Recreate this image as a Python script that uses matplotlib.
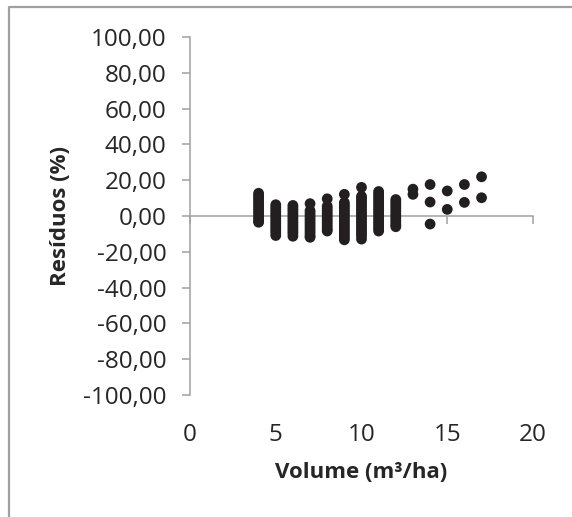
import matplotlib.pyplot as plt
from matplotlib.lines import Line2D
from matplotlib.ticker import FuncFormatter

plt.rcParams['font.family'] = ['Open Sans', 'DejaVu Sans']

# Residuals (%) read per volume class (m3/ha)
res_v4 = [12.7, 11.4, 10.1, 8.8, 7.5, 6.2, 4.9, 3.6, 2.3, 1.0, -0.3, -1.6, -2.9, -3.5]
res_v5 = [6.3, 5.0, 3.7, 2.4, 1.1, -0.2, -1.5, -2.8, -4.1, -5.4, -6.7, -8.0, -9.3, -10.9]
res_v6 = [5.9, 4.6, 3.3, 2.0, 0.7, -0.6, -1.9, -3.2, -4.5, -5.8, -7.1, -8.4, -9.7, -11.3]
res_v7 = [6.9, 3.0, 1.7, 0.4, -0.9, -2.2, -3.5, -4.8, -6.1, -7.4, -8.7, -10.0, -11.3, -11.9]
res_v8 = [9.6, 5.5, 4.2, 2.9, 1.6, 0.3, -1.0, -2.3, -3.6, -4.9, -6.2, -7.5, -8.4]
res_v9 = [12.1, 7.5, 6.2, 4.9, 3.6, 2.3, 1.0, -0.3, -1.6, -2.9, -4.2, -5.5, -6.8, -8.1, -9.4, -10.7, -12.0, -13.3]
res_v10 = [16.0, 11.0, 9.7, 8.4, 7.1, 5.8, 4.5, 3.2, 1.9, 0.6, -0.7, -2.0, -3.3, -4.6, -5.9, -7.2, -8.5, -9.8, -11.1, -12.9]
res_v11 = [13.7, 12.4, 11.1, 9.8, 8.5, 7.2, 5.9, 4.6, 3.3, 2.0, 0.7, -0.6, -1.9, -3.2, -4.5, -5.8, -7.1, -8.4]
res_v12 = [9.2, 7.9, 6.6, 5.3, 4.0, 2.7, 1.4, 0.1, -1.2, -2.5, -3.8, -5.1, -6.0]
res_v13 = [15.0, 12.1]
res_v14 = [17.6, 7.8, -4.5]
res_v15 = [14.0, 3.7]
res_v16 = [17.6, 7.6]
res_v17 = [21.9, 10.2]

volumes = [4, 5, 6, 7, 8, 9, 10, 11, 12, 13, 14, 15, 16, 17]
residuos = [res_v4, res_v5, res_v6, res_v7, res_v8, res_v9, res_v10,
            res_v11, res_v12, res_v13, res_v14, res_v15, res_v16, res_v17]

axis_gray = '#a0a0a0'
dot = '#231f20'

fig = plt.figure(figsize=(5.72, 5.17), dpi=100)
ax = fig.add_axes([0.3322, 0.2360, 0.5996, 0.6924])

for v, res in zip(volumes, residuos):
    ax.scatter([v] * len(res), res, s=60, color=dot, edgecolors='none', zorder=3)

ax.set_xlim(0, 20)
ax.set_ylim(-100, 100)
ax.set_yticks(range(-100, 101, 20))
ax.set_xticks(range(0, 21, 5))
ax.yaxis.set_major_formatter(FuncFormatter(lambda y, p: f'{y:.2f}'.replace('.', ',')))

for s in ['top', 'right']:
    ax.spines[s].set_visible(False)
ax.spines['bottom'].set_position(('data', 0))
ax.spines['left'].set_color(axis_gray)
ax.spines['bottom'].set_color(axis_gray)
ax.spines['left'].set_linewidth(1.1)
ax.spines['bottom'].set_linewidth(1.1)

ax.tick_params(axis='y', direction='out', length=6, width=1.1, color=axis_gray,
               labelsize=17.5, labelcolor='#262626', pad=11)
ax.tick_params(axis='x', direction='out', length=6, width=1.1, color=axis_gray,
               labelbottom=False)

# x tick labels sit at the bottom of the plot, as in Excel "low" labels
sec = ax.secondary_xaxis(0)
sec.set_xticks(range(0, 21, 5))
sec.spines['bottom'].set_visible(False)
sec.tick_params(length=0, labelsize=17.5, labelcolor='#262626', pad=20)

fig.text(0.631, 0.087, 'Volume (m³/ha)', ha='center', va='center',
         fontsize=16, fontweight='bold', color='#262626')
fig.text(0.105, 0.582, 'Resíduos (%)', ha='center', va='center', rotation=90,
         fontsize=16, fontweight='bold', color='#262626')

# chart frame
bx = 8.5 / 572
by = 1 - 6.5 / 517
fig.add_artist(Line2D([bx, bx, 1.0], [0.0, by, by], transform=fig.transFigure,
                      color=axis_gray, lw=1.6))

fig.savefig('out.png', dpi=100)
